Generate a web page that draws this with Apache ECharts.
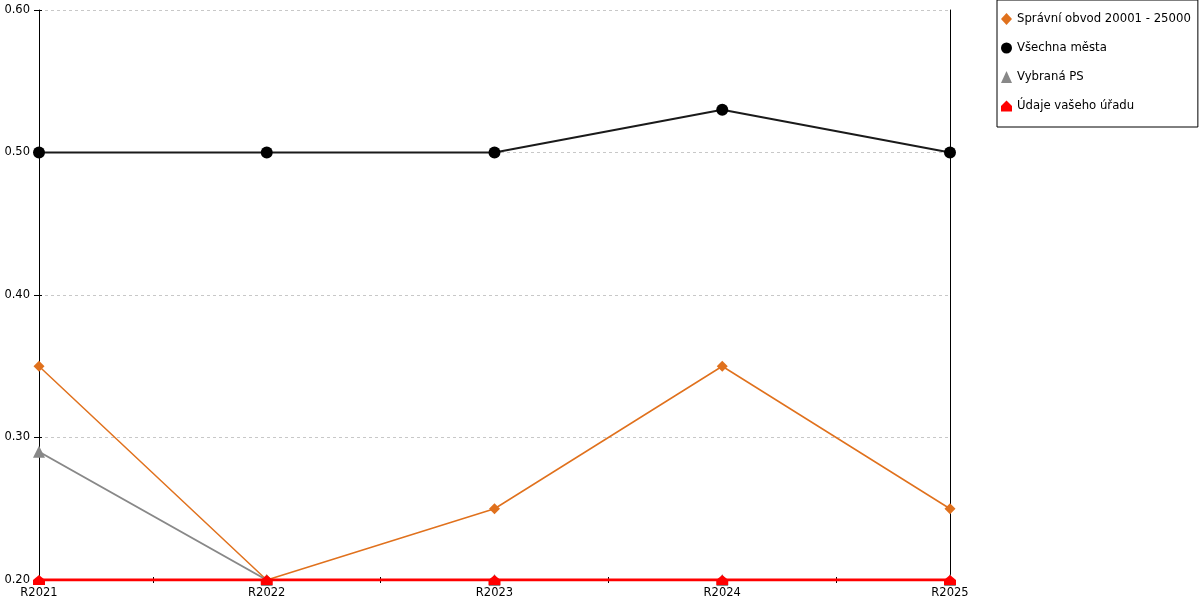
<!DOCTYPE html>
<html><head><meta charset="utf-8">
<script src="https://cdn.jsdelivr.net/npm/echarts@6/dist/echarts.min.js"></script>
<style>html,body{margin:0;padding:0;background:#fff}#c{width:1200px;height:600px}</style>
</head><body><div id="c"></div>
<script>
var categories = ['R2021','R2022','R2023','R2024','R2025'];
var seriesNames = ['Správní obvod 20001 - 25000','Všechna města','Vybraná PS','Údaje vašeho úřadu'];
var spravniObvod = [0.35, 0.20, 0.25, 0.35, 0.25];
var vsechnaMesta = [0.50, 0.50, 0.50, 0.53, 0.50];
var vybranaPS = [0.29, 0.20, 0.20, 0.20, 0.20];
var udajeUradu = [0.20, 0.20, 0.20, 0.20, 0.20];
var yTicks = [0.2, 0.3, 0.4, 0.5, 0.6];

var house = 'path://M0,5 L5,0 L10,5 L10,10 L0,10 Z';
var font = 'DejaVu Sans';
var chart = echarts.init(document.getElementById('c'));
var midTicks = categories.slice(1).map(function(){return '';});
function tickAxis(inside){
  return {type:'category', data: midTicks, boundaryGap:true, position:'bottom',
    axisLine:{show:false}, axisLabel:{show:false}, splitLine:{show:false},
    axisTick:{show:true, alignWithLabel:true, inside:inside, length:3, lineStyle:{color:'#000', width:1}}};
}
chart.setOption({
  animation:false,
  textStyle:{fontFamily:font},
  grid:{left:39, right:250, top:10, bottom:20, containLabel:false},
  legend:{
    orient:'vertical', left:997, top:0, padding:[13,7,15,4], itemGap:17,
    itemWidth:11, itemHeight:12, borderColor:'#000', borderWidth:1,
    textStyle:{fontFamily:font, fontSize:11.7, color:'#000'},
    data:[{name:seriesNames[0], icon:'diamond'},{name:seriesNames[1], icon:'circle'},
          {name:seriesNames[2], icon:'triangle'},{name:seriesNames[3], icon:house}]
  },
  xAxis:[
    {type:'category', data:categories, boundaryGap:false,
     axisLine:{show:true, lineStyle:{color:'#000'}}, axisTick:{show:false},
     axisLabel:{color:'#000', fontSize:11.5, fontFamily:font, margin:7}, splitLine:{show:false}},
    tickAxis(false), tickAxis(true)
  ],
  yAxis:[
    {type:'value', min:yTicks[0], max:yTicks[yTicks.length-1], interval:0.1, position:'left',
     axisLine:{show:true, lineStyle:{color:'#000'}},
     axisTick:{show:true, length:5, lineStyle:{color:'#000'}},
     axisLabel:{color:'#000', fontSize:11.5, fontFamily:font, margin:9, formatter:function(v){return v.toFixed(2);}},
     splitLine:{show:true, lineStyle:{color:'#c8c8c8', type:[3,3], width:1}}},
    {type:'value', min:yTicks[0], max:yTicks[yTicks.length-1], interval:0.1, position:'left',
     axisLine:{show:false}, axisTick:{show:true, inside:true, length:3, lineStyle:{color:'#000'}},
     axisLabel:{show:false}, splitLine:{show:false}},
    {type:'value', min:yTicks[0], max:yTicks[yTicks.length-1], interval:0.1, position:'right',
     axisLine:{show:true, lineStyle:{color:'#000'}}, axisTick:{show:false},
     axisLabel:{show:false}, splitLine:{show:false}}
  ],
  series:[
    {name:seriesNames[0], type:'line', data:spravniObvod, symbol:'diamond', symbolSize:11,
     itemStyle:{color:'#e0711d'}, lineStyle:{color:'#e0711d', width:1.5}, z:2},
    {name:seriesNames[1], type:'line', data:vsechnaMesta, symbol:'circle', symbolSize:12,
     itemStyle:{color:'#000'}, lineStyle:{color:'#1a1a1a', width:2}, z:3},
    {name:seriesNames[2], type:'line', data:vybranaPS, symbol:'triangle', symbolSize:12,
     itemStyle:{color:'#888888'}, lineStyle:{color:'#888888', width:2}, z:4},
    {name:seriesNames[3], type:'line', data:udajeUradu, symbol:house, symbolSize:[12,10],
     itemStyle:{color:'#ff0000'}, lineStyle:{color:'#ff0000', width:3}, z:5}
  ]
});
</script></body></html>
